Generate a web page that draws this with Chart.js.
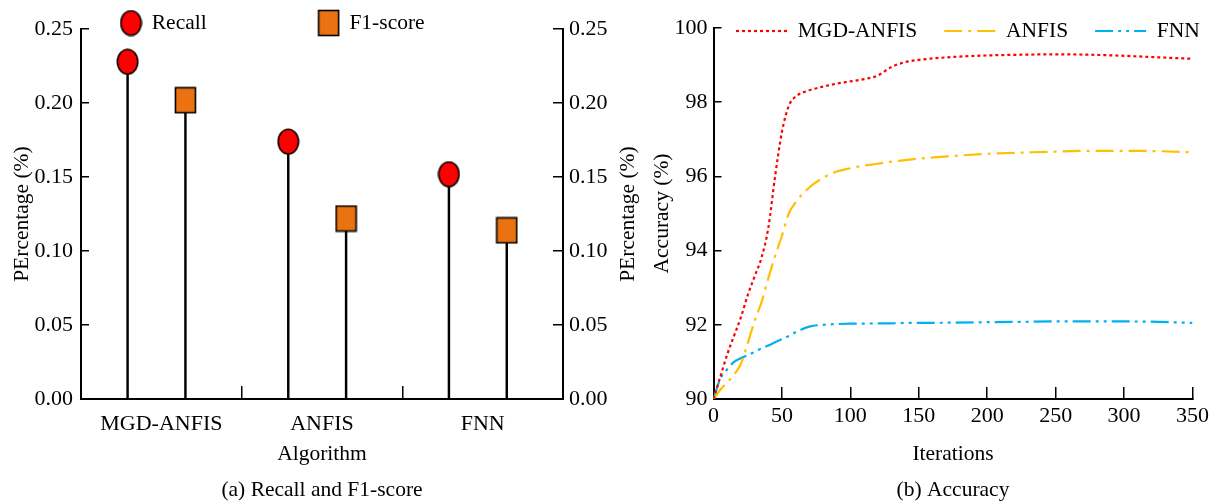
<!DOCTYPE html>
<html><head><meta charset="utf-8">
<script src="https://cdn.jsdelivr.net/npm/chart.js@4.4.1/dist/chart.umd.min.js"></script>
<style>
html,body{margin:0;padding:0;background:#fff;}
#wrap{position:relative;width:1225px;height:504px;overflow:hidden;background:#fff;}
#c1{position:absolute;left:0;top:0;}
#c2{position:absolute;left:645px;top:0;}
</style></head><body>
<div id="wrap"><canvas id="c1" width="645" height="504"></canvas><canvas id="c2" width="580" height="504"></canvas></div>
<script>
// ---- (a) Recall and F1-score ----
const algorithms = ['MGD-ANFIS', 'ANFIS', 'FNN'];
const recall = [0.228, 0.174, 0.152];
const f1Score = [0.202, 0.122, 0.114];
const percentTicks = [0, 0.05, 0.10, 0.15, 0.20, 0.25];

// ---- (b) Accuracy ----
const iterations = [0,5,10,15,20,25,30,35,40,45,50,55,60,70,80,90,100,110,120,130,140,150,175,200,225,250,275,300,325,350];
const mgdAnfis = [90.0,90.6,91.2,91.7,92.2,92.8,93.3,93.8,94.6,96.0,97.2,97.9,98.15,98.32,98.42,98.5,98.56,98.62,98.72,98.95,99.08,99.14,99.22,99.26,99.28,99.29,99.28,99.25,99.21,99.17];
const anfis = [90.0,90.25,90.45,90.65,90.95,91.5,92.1,92.6,93.25,93.85,94.4,95.0,95.3,95.7,95.96,96.13,96.22,96.29,96.34,96.4,96.44,96.48,96.55,96.61,96.64,96.67,96.69,96.69,96.68,96.65];
const fnn = [90.0,90.55,90.8,91.0,91.1,91.18,91.27,91.36,91.44,91.53,91.61,91.7,91.8,91.95,92.0,92.02,92.03,92.03,92.04,92.04,92.05,92.05,92.06,92.07,92.08,92.09,92.09,92.09,92.08,92.05];
const accuracyTicks = [90, 92, 94, 96, 98, 100];
const iterationTicks = [0, 50, 100, 150, 200, 250, 300, 350];

Chart.defaults.font.family = "'Liberation Serif', 'Times New Roman', serif";
Chart.defaults.color = '#000';
Chart.defaults.animation = false;

const TICK_FONT = {size: 22};
const TEXT_FONT = {size: 21.5};
const LEGEND_FS = 21.5;

// marker images (ellipse and tall square as in the figure)
function ellipseImg(fill) {
  const c = document.createElement('canvas'); c.width = 23; c.height = 27;
  const g = c.getContext('2d');
  g.beginPath(); g.ellipse(11.5, 13.5, 10.2, 12.3, 0, 0, Math.PI * 2);
  g.fillStyle = fill; g.fill(); g.lineWidth = 1.6; g.strokeStyle = '#000'; g.stroke();
  return c;
}
function rectImg(fill) {
  const c = document.createElement('canvas'); c.width = 23; c.height = 28;
  const g = c.getContext('2d');
  g.fillStyle = fill; g.fillRect(1.5, 1.5, 20, 25);
  g.lineWidth = 1.6; g.strokeStyle = '#000'; g.strokeRect(1.5, 1.5, 20, 25);
  return c;
}

// place legend row: first item left x, item centre y
const legendPlace = {
  id: 'legendPlace',
  afterLayout(chart, args, opts) {
    const lg = chart.legend;
    if (!lg || opts.x === undefined || !lg.lineWidths) return;
    const p = lg.options.labels.padding;
    const cur = (lg.left + p + lg.right - lg.lineWidths[0]) / 2;
    const dx = opts.x - cur;
    lg.left += dx; lg.right += dx;
    lg.top = opts.y - LEGEND_FS / 2 - p;
    lg.bottom = opts.y + LEGEND_FS;
  }
};
// right-hand axis title reading bottom-to-top
const sideTitle = {
  id: 'sideTitle',
  afterDraw(chart, args, opts) {
    if (!opts.text) return;
    const ctx = chart.ctx, a = chart.chartArea;
    ctx.save();
    ctx.font = TEXT_FONT.size + "px 'Liberation Serif', 'Times New Roman', serif";
    ctx.fillStyle = '#000'; ctx.textAlign = 'center'; ctx.textBaseline = 'middle';
    ctx.translate(opts.x, (a.top + a.bottom) / 2);
    ctx.rotate(-Math.PI / 2);
    ctx.fillText(opts.text, 0, 0);
    ctx.restore();
  }
};

const offRecall = -0.21, offF1 = 0.15;
const pts = (vals, off) => vals.map((v, i) => ({x: i + 0.5 + off, y: v}));
const catTicks = [];
algorithms.forEach((a, i) => { catTicks.push(i, i + 0.5); });
catTicks.push(algorithms.length);

const axisBorder = {display: true, color: '#000', width: 2};

new Chart(document.getElementById('c1'), {
  type: 'bar',
  data: {
    datasets: [
      {type: 'scatter', label: 'Recall', data: pts(recall, offRecall), pointStyle: ellipseImg('#FF0000'), pointRadius: 11, order: 1},
      {type: 'scatter', label: 'F1-score', data: pts(f1Score, offF1), pointStyle: rectImg('#EA7210'), pointRadius: 11, order: 1},
      {type: 'bar', label: 'Recall stem', data: pts(recall, offRecall), backgroundColor: '#000', barThickness: 1.8, grouped: false, order: 2},
      {type: 'bar', label: 'F1 stem', data: pts(f1Score, offF1), backgroundColor: '#000', barThickness: 1.8, grouped: false, order: 2}
    ]
  },
  options: {
    responsive: false,
    animation: false,
    layout: {padding: 0},
    scales: {
      x: {
        type: 'linear', min: 0, max: algorithms.length, offset: false,
        afterBuildTicks: s => { s.ticks = catTicks.map(v => ({value: v})); },
        ticks: {callback: v => (v % 1 ? algorithms[Math.floor(v)] : ''), font: TICK_FONT, padding: 25, autoSkip: false, maxRotation: 0, color: '#000'},
        grid: {offset: false, drawOnChartArea: false, tickLength: -13, lineWidth: 1.5,
               color: c => (c.tick && c.tick.value % 1 === 0 && c.tick.value > 0 && c.tick.value < algorithms.length) ? '#000' : 'rgba(0,0,0,0)'},
        border: axisBorder,
        title: {display: true, text: 'Algorithm', font: TEXT_FONT, color: '#000', padding: {top: 0, bottom: 10}},
        afterFit: s => { s.height = 78.2; }
      },
      y: {
        type: 'linear', position: 'left', min: 0, max: 0.25,
        afterBuildTicks: s => { s.ticks = percentTicks.map(v => ({value: v})); },
        ticks: {callback: v => v.toFixed(2), font: TICK_FONT, padding: 16, color: '#000'},
        grid: {drawOnChartArea: false, tickLength: -8, color: '#000', lineWidth: 1.5},
        border: axisBorder,
        title: {display: true, text: 'PErcentage (%)', font: TEXT_FONT, color: '#000', padding: {top: 9}},
        afterFit: s => { s.width = 81; }
      },
      y2: {
        type: 'linear', position: 'right', min: 0, max: 0.25,
        afterBuildTicks: s => { s.ticks = percentTicks.map(v => ({value: v})); },
        ticks: {callback: v => v.toFixed(2), font: TICK_FONT, padding: 16, color: '#000'},
        grid: {drawOnChartArea: false, tickLength: -10, color: '#000', lineWidth: 1.5},
        border: axisBorder,
        afterFit: s => { s.width = 82; }
      }
    },
    plugins: {
      legend: {
        display: true, position: 'top', maxHeight: 28,
        labels: {usePointStyle: true, boxWidth: 20, boxHeight: 20, padding: 112, font: {size: LEGEND_FS}, color: '#000',
                 filter: item => item.datasetIndex < 2}
      },
      title: {display: true, position: 'bottom', fullSize: false, text: '(a) Recall and F1-score', font: {size: 21.5, weight: 'normal'}, color: '#000', padding: {top: 0, bottom: 1}},
      tooltip: {enabled: false},
      legendPlace: {x: 121, y: 23},
      sideTitle: {text: 'PErcentage (%)', x: 628}
    }
  },
  plugins: [legendPlace, sideTitle]
});

const series = (vals) => iterations.map((x, i) => ({x, y: vals[i]}));
new Chart(document.getElementById('c2'), {
  type: 'line',
  data: {
    datasets: [
      {label: 'MGD-ANFIS', data: series(mgdAnfis), borderColor: '#FF0000', borderDash: [3, 3], borderWidth: 2.2, pointRadius: 0, cubicInterpolationMode: 'monotone', fill: false},
      {label: 'ANFIS', data: series(anfis), borderColor: '#FFC000', borderDash: [18, 6, 3, 6], borderWidth: 2.2, pointRadius: 0, cubicInterpolationMode: 'monotone', fill: false},
      {label: 'FNN', data: series(fnn), borderColor: '#00B0F0', borderDash: [18, 5, 3, 5, 3, 5], borderWidth: 2.2, pointRadius: 0, cubicInterpolationMode: 'monotone', fill: false}
    ]
  },
  options: {
    responsive: false,
    animation: false,
    layout: {padding: {right: 28}},
    scales: {
      x: {
        type: 'linear', min: 0, max: 350,
        afterBuildTicks: s => { s.ticks = iterationTicks.map(v => ({value: v})); },
        ticks: {font: TICK_FONT, padding: 16, maxRotation: 0, autoSkip: false, color: '#000'},
        grid: {drawOnChartArea: false, tickLength: -12, color: '#000', lineWidth: 1.5},
        border: axisBorder,
        title: {display: true, text: 'Iterations', font: TEXT_FONT, color: '#000', padding: {top: 0, bottom: 10}},
        afterFit: s => { s.height = 78.2; }
      },
      y: {
        type: 'linear', min: 90, max: 100,
        afterBuildTicks: s => { s.ticks = accuracyTicks.map(v => ({value: v})); },
        ticks: {font: TICK_FONT, padding: 14, color: '#000'},
        grid: {drawOnChartArea: false, tickLength: -8, color: '#000', lineWidth: 1.5},
        border: axisBorder,
        title: {display: true, text: 'Accuracy (%)', font: TEXT_FONT, color: '#000', padding: {top: 4}},
        afterFit: s => { s.width = 68.5; }
      }
    },
    plugins: {
      legend: {
        display: true, position: 'top', maxHeight: 28,
        labels: {
          usePointStyle: true, pointStyle: 'line', pointStyleWidth: 51, padding: 27, font: {size: LEGEND_FS}, color: '#000',
          generateLabels: chart => {
            const items = Chart.defaults.plugins.legend.labels.generateLabels(chart);
            items.forEach(it => {
              const ds = chart.data.datasets[it.datasetIndex];
              it.pointStyle = 'line'; it.lineDash = ds.borderDash; it.lineWidth = ds.borderWidth; it.strokeStyle = ds.borderColor;
            });
            return items;
          }
        }
      },
      title: {display: true, position: 'bottom', fullSize: false, text: '(b) Accuracy', font: {size: 21.5, weight: 'normal'}, color: '#000', padding: {top: 0, bottom: 1}},
      tooltip: {enabled: false},
      legendPlace: {x: 91, y: 31}
    }
  },
  plugins: [legendPlace]
});
</script>
</body></html>
